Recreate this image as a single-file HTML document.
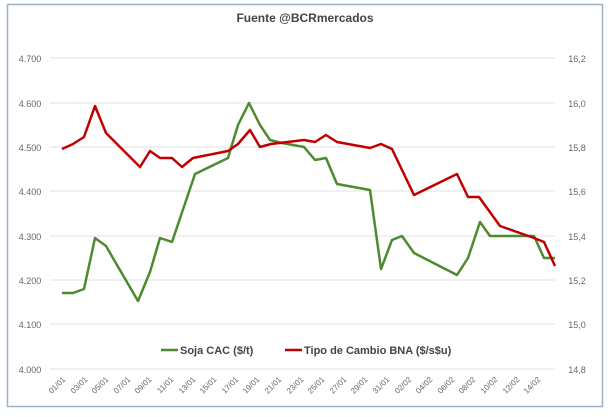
<!DOCTYPE html><html><head><style>body{margin:0;background:#fff}svg{display:block;font-family:"Liberation Sans",sans-serif}</style></head><body>
<svg width="610" height="417" xmlns="http://www.w3.org/2000/svg">
<rect x="0" y="0" width="610" height="417" fill="#fff"/>
<rect x="7.5" y="4.5" width="595" height="402" fill="#fff" stroke="#9cb0c8" stroke-width="1.5"/>
<text x="305" y="22" text-anchor="middle" font-size="12" font-weight="bold" fill="#444">Fuente @BCRmercados</text>
<g stroke="#e2e2e2" stroke-width="1">
<line x1="50" x2="555" y1="58" y2="58"/><line x1="50" x2="555" y1="103" y2="103"/><line x1="50" x2="555" y1="147" y2="147"/><line x1="50" x2="555" y1="191" y2="191"/><line x1="50" x2="555" y1="236" y2="236"/><line x1="50" x2="555" y1="280" y2="280"/><line x1="50" x2="555" y1="324" y2="324"/><line x1="50" x2="555" y1="369" y2="369"/>
</g>
<g font-size="9" fill="#666" text-anchor="middle">
<text x="30" y="62">4.700</text><text x="30" y="107">4.600</text><text x="30" y="151">4.500</text><text x="30" y="195">4.400</text><text x="30" y="240">4.300</text><text x="30" y="284">4.200</text><text x="30" y="328">4.100</text><text x="30" y="373">4.000</text>
<text x="577" y="62">16,2</text><text x="577" y="107">16,0</text><text x="577" y="151">15,8</text><text x="577" y="195">15,6</text><text x="577" y="240">15,4</text><text x="577" y="284">15,2</text><text x="577" y="328">15,0</text><text x="577" y="373">14,8</text>
</g>
<g font-size="8" fill="#666" text-anchor="end">
<text transform="translate(66,380) rotate(-45)">01/01</text><text transform="translate(88,380) rotate(-45)">03/01</text><text transform="translate(109,380) rotate(-45)">05/01</text><text transform="translate(131,380) rotate(-45)">07/01</text><text transform="translate(152,380) rotate(-45)">09/01</text><text transform="translate(174,380) rotate(-45)">11/01</text><text transform="translate(196,380) rotate(-45)">13/01</text><text transform="translate(217,380) rotate(-45)">15/01</text><text transform="translate(239,380) rotate(-45)">17/01</text><text transform="translate(260,380) rotate(-45)">19/01</text><text transform="translate(282,380) rotate(-45)">21/01</text><text transform="translate(304,380) rotate(-45)">23/01</text><text transform="translate(325,380) rotate(-45)">25/01</text><text transform="translate(347,380) rotate(-45)">27/01</text><text transform="translate(368,380) rotate(-45)">29/01</text><text transform="translate(390,380) rotate(-45)">31/01</text><text transform="translate(412,380) rotate(-45)">02/02</text><text transform="translate(433,380) rotate(-45)">04/02</text><text transform="translate(455,380) rotate(-45)">06/02</text><text transform="translate(476,380) rotate(-45)">08/02</text><text transform="translate(498,380) rotate(-45)">10/02</text><text transform="translate(520,380) rotate(-45)">12/02</text><text transform="translate(541,380) rotate(-45)">14/02</text>
</g>
<polyline fill="none" stroke="#4e8a2e" stroke-width="2.5" stroke-linejoin="round" points="62,293 73,293 84,289 95,238 106,246 117,265 138,301 150,272 160,238 172,242 195,174 228,158 238,125 249,103 260,125 270,140 282,143 304,147 315,160 326,158 337,184 370,190 381,269 392,240 402,236 414,253 457,275 468,258 480,222 490,236 534,236 544,258 555,258"/>
<polyline fill="none" stroke="#c00000" stroke-width="2.5" stroke-linejoin="round" points="62,149 73,144 84,137 95,106 106,133 117,144 140,167 150,151 160,158 172,158 182,167 193,158 228,151 238,144 250,130 260,147 271,144 304,140 315,142 326,135 337,142 370,148 381,144 392,149 414,195 457,174 468,197 479,197 500,226 534,238 544,242 555,266"/>
<line x1="161" x2="178" y1="350" y2="350" stroke="#4e8a2e" stroke-width="2.5"/>
<text x="180" y="354" font-size="11" font-weight="bold" fill="#444">Soja CAC ($/t)</text>
<line x1="285" x2="302" y1="350" y2="350" stroke="#c00000" stroke-width="2.5"/>
<text x="304" y="354" font-size="11" font-weight="bold" fill="#444">Tipo de Cambio BNA ($/s$u)</text>
</svg></body></html>
